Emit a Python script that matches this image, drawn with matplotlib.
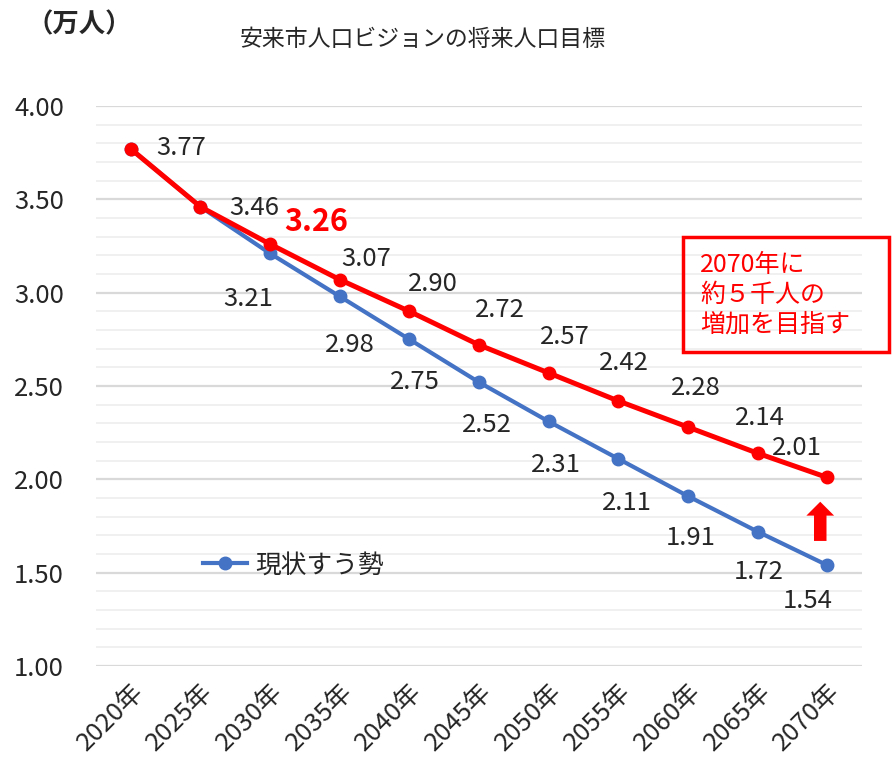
import matplotlib
matplotlib.use("Agg")
import matplotlib.pyplot as plt
from matplotlib.patches import Rectangle
from matplotlib.ticker import MultipleLocator

plt.rcParams['font.family'] = ['Noto Sans CJK JP', 'DejaVu Sans']

years = ['2020年', '2025年', '2030年', '2035年', '2040年', '2045年',
         '2050年', '2055年', '2060年', '2065年', '2070年']
target = [3.77, 3.46, 3.26, 3.07, 2.90, 2.72, 2.57, 2.42, 2.28, 2.14, 2.01]
trend = [3.77, 3.46, 3.21, 2.98, 2.75, 2.52, 2.31, 2.11, 1.91, 1.72, 1.54]

# label offsets in points (dx, dy)
target_off = [(36, 1), (39, -1), (33, 16), (19, 15), (17, 20), (15, 25),
              (12, 26), (4, 27), (6, 28), (2, 25), (-22, 21)]
trend_off = [None, None, (-16, -33), (7, -35), (4, -31), (6, -31),
             (5, -31), (6, -32), (2, -30), (1, -29), (-14, -26)]

RED = '#FF0000'
BLUE = '#4472C4'
TXT = '#262626'
FS = 18.5

fig = plt.figure(figsize=(8.92, 7.72), dpi=100)
ax = fig.add_axes([0.1076, 0.1373, 0.8588, 0.7254])

x = list(range(len(years)))
ax.plot(x, trend, color=BLUE, lw=3.0, marker='o', ms=9, label='現状すう勢', zorder=3)
ax.plot(x, target, color=RED, lw=3.6, marker='o', ms=9, zorder=4)

ax.set_xlim(-0.5, len(years) - 0.5)
ax.set_ylim(1.0, 4.0)
ax.yaxis.set_minor_locator(MultipleLocator(0.1))
yt = [1.0, 1.5, 2.0, 2.5, 3.0, 3.5, 4.0]
ax.set_yticks(yt)
ax.set_yticklabels(['%.2f' % v for v in yt])
ax.grid(axis='y', which='major', color='#D9D9D9', lw=1.6, zorder=0)
ax.grid(axis='y', which='minor', color='#F0F0F0', lw=1.4, zorder=0)
ax.set_axisbelow(True)
ax.set_xticks(x)
ax.set_xticklabels(years, rotation=45, ha='right', va='top', rotation_mode='anchor')
ax.tick_params(axis='both', which='both', length=0, labelsize=FS, colors=TXT)
ax.tick_params(axis='x', pad=9)
ax.tick_params(axis='y', pad=23)
for s in ax.spines.values():
    s.set_visible(False)

for i, v in enumerate(target):
    dx, dy = target_off[i]
    if i == 2:
        ax.annotate('%.2f' % v, (i, v), xytext=(dx, dy), textcoords='offset points',
                    ha='center', va='center', fontsize=22, fontweight='bold', color=RED)
    else:
        ax.annotate('%.2f' % v, (i, v), xytext=(dx, dy), textcoords='offset points',
                    ha='center', va='center', fontsize=FS, color=TXT)
for i, v in enumerate(trend):
    if trend_off[i] is None:
        continue
    dx, dy = trend_off[i]
    ax.annotate('%.2f' % v, (i, v), xytext=(dx, dy), textcoords='offset points',
                ha='center', va='center', fontsize=FS, color=TXT)

leg = ax.legend(loc='lower left', bbox_to_anchor=(0.11, 0.115), frameon=False,
                fontsize=FS, handlelength=1.7, handletextpad=0.3)
for t in leg.get_texts():
    t.set_color(TXT)

# up arrow at 2070
ax.annotate('', xy=(10 - 0.1, 1.88), xytext=(10 - 0.1, 1.67),
            arrowprops=dict(arrowstyle='simple,head_length=1.0,head_width=2.0,tail_width=0.9',
                            fc=RED, ec=RED, lw=0, shrinkA=0, shrinkB=0))

# callout box
fig.patches.append(Rectangle((683 / 892, 1 - 352 / 772), 206 / 892, 115 / 772,
                             transform=fig.transFigure, fill=False,
                             edgecolor=RED, lw=2.5, zorder=5))
fig.text(700 / 892, 1 - 295 / 772, '2070年に\n約５千人の\n増加を目指す', color=RED,
         fontsize=18, va='center', ha='left', linespacing=1.2)

fig.text(26 / 892, 1 - 25 / 772, '（万人）', fontsize=19, fontweight='bold',
         va='center', ha='left', color=TXT)
fig.text(423 / 892, 1 - 40 / 772, '安来市人口ビジョンの将来人口目標', fontsize=16.5,
         va='center', ha='center', color=TXT)

fig.savefig('out.png', dpi=100)
